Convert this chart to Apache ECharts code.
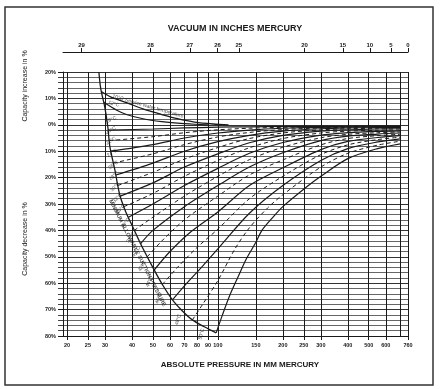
<!DOCTYPE html>
<html><head><meta charset="utf-8">
<script src="https://cdn.jsdelivr.net/npm/echarts@6/dist/echarts.min.js"></script>
<style>html,body{margin:0;padding:0;background:#fff}#c{width:441px;height:389px}</style>
</head><body><div id="c"></div>
<script>
// ---- data (absolute pressure in mm Hg, capacity change in %) ----
const pressureTicks = [20,25,30,40,50,60,70,80,90,100,150,200,250,300,400,500,600,700,760];
const vacuumTicks = [29,28,27,26,25,20,15,10,5,0];
const boundary = [[28.1,20],[28.7,13.4],[29.9,6.9],[30.9,-0.7],[31.6,-8.3],[33.3,-17],[35.1,-26.5],[37.4,-32.9],[40.3,-38.6],[44.8,-46.6],[49.8,-53.8],[55.4,-60.6],[61.6,-66.3],[68.5,-70.5],[76.2,-73.9],[86.5,-76.5],[98.2,-78.8]];
const cA = [[28.85,12.6],[32,10.5],[38,8.3],[45,6],[55,3.9],[65,2.3],[78,1.0],[95,0.3],[112,0]];
const cB = [[29.6,8.5],[34,5.5],[38,3.8],[45,2.3],[55,1.2],[65,0.6],[78,0.2],[90,0]];
const c18 = [[31,-2],[50,-1.6],[70,-1.2],[100,-0.9],[140,-0.75],[200,-0.65],[300,-0.6],[400,-0.55],[550,-0.5],[700,-0.5]];
const c20 = [[31.4,-6],[50,-4.5],[70,-3],[100,-1.9],[140,-1.3],[200,-0.95],[300,-0.75],[400,-0.65],[550,-0.6],[700,-0.6]];
const c22 = [[31.9,-10],[50,-7.5],[70,-5],[100,-3.1],[140,-2],[200,-1.3],[300,-0.95],[400,-0.8],[550,-0.72],[700,-0.7]];
const c24 = [[32.8,-14.5],[50,-11],[70,-7.5],[100,-4.6],[140,-2.9],[200,-1.8],[300,-1.2],[400,-0.95],[550,-0.85],[700,-0.8]];
const c26 = [[33.7,-19],[50,-14.5],[70,-10],[100,-6.4],[140,-4],[200,-2.4],[300,-1.5],[400,-1.2],[550,-1.05],[700,-1.0]];
const c28 = [[34.4,-23],[50,-18],[70,-13],[100,-8.6],[140,-5.2],[200,-3.1],[300,-1.9],[400,-1.5],[550,-1.3],[700,-1.2]];
const c30 = [[35.3,-27],[50,-22],[70,-16],[100,-11],[140,-6.8],[200,-4],[300,-2.4],[400,-1.9],[550,-1.6],[700,-1.5]];
const c32 = [[36.7,-31],[50,-26],[70,-19.5],[100,-13.5],[140,-8.7],[200,-5.2],[300,-3.1],[400,-2.4],[550,-2.05],[700,-1.9]];
const c34 = [[38.5,-35],[50,-30],[70,-23],[100,-16.5],[140,-10.8],[200,-6.7],[300,-3.9],[400,-3.0],[550,-2.5],[700,-2.3]];
const c36 = [[41,-40],[50,-35],[70,-27],[100,-19.5],[140,-13.2],[200,-8.5],[300,-4.9],[400,-3.6],[550,-3.0],[700,-2.7]];
const c38 = [[43.9,-45],[50,-40],[70,-31],[100,-23],[140,-16],[200,-10.6],[300,-6.0],[400,-4.3],[550,-3.5],[700,-3.1]];
const c40 = [[47.1,-50],[55,-44],[70,-36],[100,-27],[140,-19],[200,-13.3],[300,-7.6],[400,-5.2],[550,-4.1],[700,-3.6]];
const c42 = [[50.7,-55],[60,-48],[75,-40.5],[100,-33],[140,-23],[200,-16.3],[300,-9.4],[400,-6.3],[550,-4.8],[700,-4.1]];
const c44 = [[55.3,-60.5],[65,-54],[80,-46.5],[100,-39.5],[140,-28],[200,-19.5],[300,-11.3],[400,-7.6],[550,-5.6],[700,-4.7]];
const c46 = [[61.6,-66.3],[70,-61],[85,-53.5],[100,-47],[140,-33.5],[200,-23],[300,-13.5],[400,-9],[550,-6.5],[700,-5.3]];
const c48 = [[76.2,-73.9],[85,-68],[100,-59],[120,-47],[140,-39],[170,-31.5],[200,-26.5],[300,-16],[400,-10.8],[550,-7.7],[700,-6.2]];
const c50 = [[98.2,-78.8],[105,-72],[113,-65],[125,-57],[135,-51],[150,-44.5],[160,-40],[180,-35],[200,-31],[259,-23.4],[300,-19.5],[400,-12.8],[550,-9],[700,-7.2]];
const lowerCurves = [c18,c20,c22,c24,c26,c28,c30,c32,c34,c36,c38,c40,c42,c44,c46,c48,c50];
const lowerTemps = ['18°C','20°C','22°C','24°C','26°C','28°C','30°C','32°C','34°C','36°C','38°C','40°C','42°C','44°C','46°C','48°C','50°C'];
const topLabel = '10°C Service water temperature';
const secondLabel = '12°C';
const boundaryLabel = 'MINIMUM ALLOWABLE SUCTION PRESSURE';

// ---- chart ----
const LOG = v => Math.log10(v);
const xMin = 1.28249, xMax = Math.log10(760);
const toXY = arr => arr.map(d => [LOG(d[0]), d[1]]);
const INK = '#1a1a1a';

const series = [];
function addCurve(arr, dashed, w) {
  series.push({type:'line', data: toXY(arr), showSymbol:false, smooth:0.3,
    silent:true, z:5,
    lineStyle:{color:INK, width:w, type: dashed ? [4,3] : 'solid'}});
}
addCurve(boundary, false, 1.3);
addCurve(cA, false, 1.3);
addCurve(cB, false, 1.2);
lowerCurves.forEach((c, i) => addCurve(c, i % 2 === 1, i % 2 === 1 ? 1 : 1.2));

// labels along curves
const labelData = lowerCurves.map((c, i) => {
  const t = i / (lowerCurves.length - 1);
  return {value:[LOG(c[0][0]), c[0][1]], label:{formatter: lowerTemps[i],
    rotate: 25 + 50 * t, offset:[7 - 12 * t, -8 - 6 * t]}};
});
labelData.push({value:[LOG(cA[3][0]), cA[3][1]], label:{formatter: topLabel, rotate:-16, offset:[4,-4], fontSize:5.2}});
labelData.push({value:[LOG(cB[0][0]), cB[0][1]], label:{formatter: secondLabel, rotate:-15, offset:[10,-1]}});
labelData.push({value:[LOG(42.4), -48.6], label:{formatter: boundaryLabel, rotate:-63, fontWeight:'bold', fontSize:5.5}});
series.push({type:'scatter', data: labelData, symbolSize:0, silent:true, z:6,
  label:{show:true, position:'inside', color:INK, fontSize:5, fontFamily:'Liberation Sans'}});

const option = {
  animation:false,
  backgroundColor:'#fff',
  grid:{left:63, top:72, width:345, height:264},
  xAxis:[{
    type:'value', position:'bottom', min:xMin, max:xMax,
    axisLine:{show:true, onZero:false, lineStyle:{color:INK, width:1}},
    axisTick:{show:true, customValues: pressureTicks.map(LOG), length:4, lineStyle:{color:INK}},
    axisLabel:{customValues: pressureTicks.map(LOG), formatter: v => String(Math.round(Math.pow(10, v))),
      fontSize:5.5, fontWeight:'bold', color:INK, margin:6, fontFamily:'Liberation Sans',
      hideOverlap:false, showMaxLabel:true},
    splitLine:{show:true, lineStyle:{color:INK, width:1}}
  },{
    type:'value', position:'top', offset:20, min:xMin, max:xMax,
    axisLine:{show:true, onZero:false, lineStyle:{color:INK, width:1}},
    axisTick:{show:true, customValues: vacuumTicks.map(v => LOG((29.92 - v) * 25.4)), length:4, lineStyle:{color:INK}},
    axisLabel:{customValues: vacuumTicks.map(v => LOG((29.92 - v) * 25.4)),
      formatter: v => String(Math.round(29.92 - Math.pow(10, v) / 25.4)),
      fontSize:6, fontWeight:'bold', color:INK, margin:4, fontFamily:'Liberation Sans'},
    splitLine:{show:false}
  }],
  yAxis:{
    type:'value', min:-80, max:20, interval:10,
    axisLine:{show:true, onZero:false, lineStyle:{color:INK, width:1}},
    axisTick:{show:true, length:5, lineStyle:{color:INK}},
    minorTick:{show:true, splitNumber:5, length:5, lineStyle:{color:'#444'}},
    axisLabel:{formatter: v => Math.abs(v) + '%', fontSize:5.5, fontWeight:'bold', color:INK, margin:7, fontFamily:'Liberation Sans'},
    splitLine:{show:true, lineStyle:{color:'#333', width:1}},
    minorSplitLine:{show:true, lineStyle:{color:'#555', width:0.9}}
  },
  graphic:[
    {type:'rect', shape:{x:5, y:7, width:428, height:378}, style:{fill:'none', stroke:'#333', lineWidth:1.5}, z:-1},
    {type:'text', x:235, y:29, style:{text:'VACUUM IN INCHES MERCURY', font:'bold 9px "Liberation Sans"', fill:INK, textAlign:'center', textVerticalAlign:'middle'}},
    {type:'text', x:240, y:365, style:{text:'ABSOLUTE PRESSURE IN MM MERCURY', font:'bold 8px "Liberation Sans"', fill:INK, textAlign:'center', textVerticalAlign:'middle'}},
    {type:'text', x:25, y:86, rotation:Math.PI/2, style:{text:'Capacity increase in %', font:'7px "Liberation Sans"', fill:INK, textAlign:'center', textVerticalAlign:'middle'}},
    {type:'text', x:25, y:239, rotation:Math.PI/2, style:{text:'Capacity decrease in %', font:'7px "Liberation Sans"', fill:INK, textAlign:'center', textVerticalAlign:'middle'}}
  ],
  series: series
};
const chart = echarts.init(document.getElementById('c'), null, {renderer:'canvas'});
chart.setOption(option);
</script></body></html>
